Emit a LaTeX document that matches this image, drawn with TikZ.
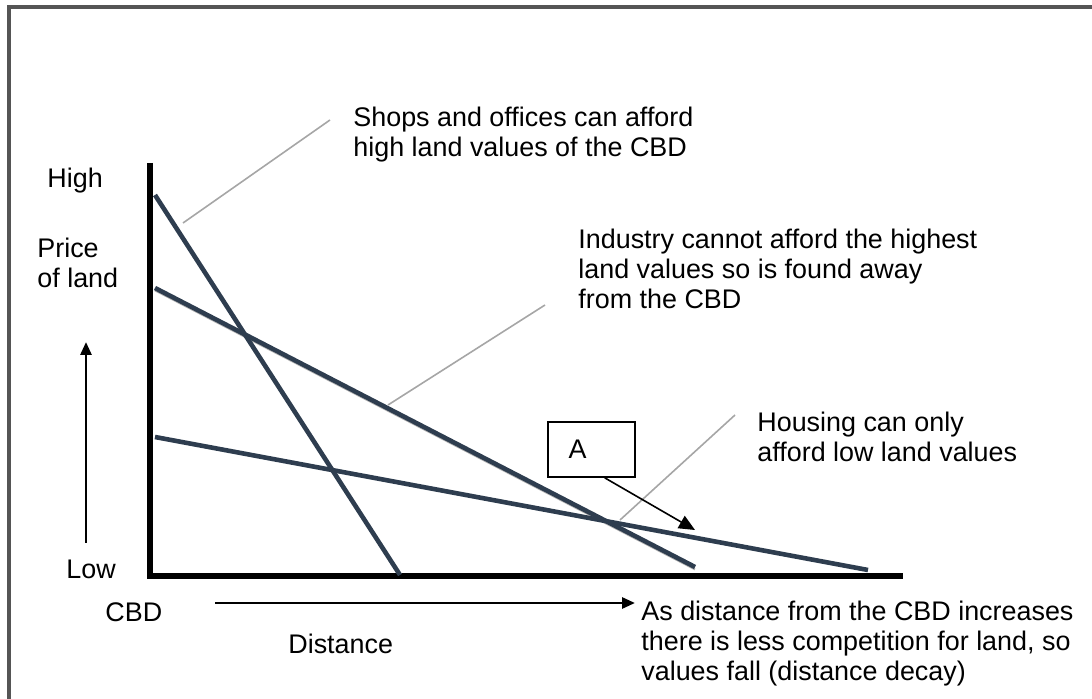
\documentclass[tikz,border=0pt]{standalone}
\usepackage{fontspec}
\setmainfont{Liberation Sans}
\usetikzlibrary{arrows.meta}

\definecolor{slate}{HTML}{2E3D4F}
\definecolor{frame}{HTML}{555555}

\begin{document}
\begin{tikzpicture}[x=0.5pt,y=-0.5pt,
  lbl/.style={inner sep=0pt,anchor=north west,align=left,font=\fontsize{13.45}{15}\selectfont},
  curve/.style={line width=2.3pt,slate},
  leader/.style={line width=0.8pt,gray!70},
  axis/.style={line width=2.8pt,black},
  dir/.style={line width=1.4pt,-{Triangle[length=6.5pt,width=5.5pt]}}]

\useasboundingbox (0,0) rectangle (1092,699);
\draw[line width=1.6pt,frame] (9,699) -- (9,7) -- (1092,7);

%axes
\draw[axis] (150,163) -- (150,576) -- (903,576);

%bid rent lines
\coordinate (s1) at (155,195);
\coordinate (s2) at (400,575);
\coordinate (i1) at (155,288);
\coordinate (i2) at (695,567);
\coordinate (h1) at (155,437);
\coordinate (h2) at (868,570);

\draw[line width=1pt,gray!60] ([yshift=-1.2pt]i1) -- ([yshift=-1.2pt]i2);
\draw[curve] (s1) -- (s2);
\draw[curve] (i1) -- (i2);
\draw[curve] (h1) -- (h2);

%labels
\node[lbl] (high) at (47,168) {High};
\node[lbl] (price) at (37,238) {Price\\of land};
\node[lbl] (low) at (66,560) {Low};
\node[lbl] (cbd) at (105,602) {CBD};
\node[lbl] (dist) at (288,634) {Distance};
\node[lbl] (decay) at (641,601) {As distance from the CBD increases\\there is less competition for land, so\\values fall (distance decay)};
\node[lbl] (shops) at (353,107) {Shops and offices can afford\\high land values of the CBD};
\node[lbl] (industry) at (578,229) {Industry cannot afford the highest\\land values so is found away\\from the CBD};
\node[lbl] (housing) at (757,412) {Housing can only\\afford low land values};

%leaders
\coordinate (ls) at (330,120);
\coordinate (ls2) at (183,223);
\coordinate (li) at (545,305);
\coordinate (li2) at (388,405);
\coordinate (lh) at (735,415);
\coordinate (lh2) at (620,520);
\draw[leader] (ls) -- (ls2);
\draw[leader] (li) -- (li2);
\draw[leader] (lh) -- (lh2);

%arrows
\coordinate (up1) at (86,543);
\coordinate (up2) at (86,342);
\coordinate (rt1) at (215,603);
\coordinate (rt2) at (635,603);
\draw[dir] (up1) -- (up2);
\draw[dir] (rt1) -- (rt2);

\node[draw,line width=0.8pt,minimum width=43.5pt,minimum height=27.5pt,
  font=\fontsize{13.45}{15}\selectfont] (A) at (591.5,449.5) {A\hspace*{14pt}};
\coordinate (ahit) at (695,530);
\draw[line width=0.8pt,-{Triangle[length=8pt,width=7pt]}] (A.-65) -- (ahit);

\end{tikzpicture}
\end{document}
